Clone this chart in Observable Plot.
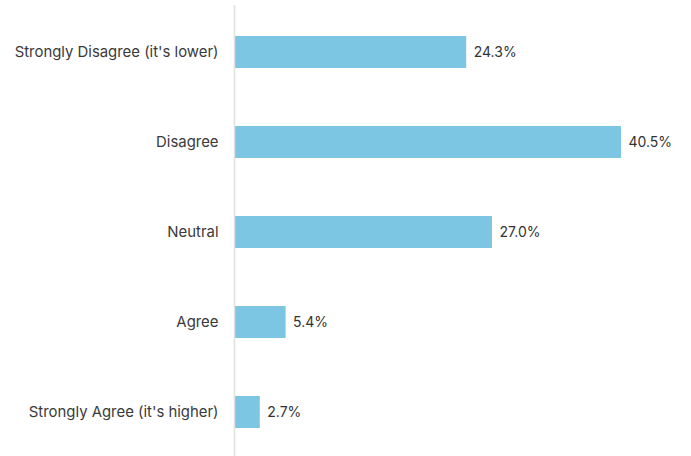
<!DOCTYPE html>
<html>
<head>
<meta charset="utf-8">
<script src="https://cdn.jsdelivr.net/npm/d3@7"></script>
<script src="https://cdn.jsdelivr.net/npm/@observablehq/plot@0.6"></script>
<style>
  html, body { margin: 0; padding: 0; background: #fff; }
  #chart svg { display: block; }
</style>
</head>
<body>
<div id="chart"></div>
<script>
const categories = [
  "Strongly Disagree (it's lower)",
  "Disagree",
  "Neutral",
  "Agree",
  "Strongly Agree (it's higher)"
];
const values = [24.3, 40.5, 27.0, 5.4, 2.7];

const data = categories.map((c, i) => ({category: c, value: values[i]}));

const chart = Plot.plot({
  width: 691,
  height: 456,
  marginLeft: 234,
  marginRight: 70,
  marginTop: 5,
  marginBottom: 0,
  style: {fontFamily: "Inter, sans-serif", fontSize: "14px", color: "#333", background: "#fff"},
  x: {domain: [0, 40.5], axis: null},
  y: {domain: categories, range: [-10.9, 475.1], paddingInner: 0.647, paddingOuter: 0.5, label: null, tickSize: 0, tickPadding: 16},
  marks: [
    Plot.barX(data, {y: "category", x: "value", fill: "#7cc6e3"}),
    Plot.ruleX([0], {stroke: "#e0e0e0", strokeWidth: 1.5}),
    Plot.text(data, {y: "category", x: "value", text: d => d.value.toFixed(1) + "%", textAnchor: "start", dx: 7, fill: "#333", fontSize: 14}),
    Plot.axisY({tickSize: 0, tickPadding: 16, fontSize: 14.9, fill: "#3a3a3a"})
  ]
});
document.getElementById("chart").appendChild(chart);
</script>
</body>
</html>
